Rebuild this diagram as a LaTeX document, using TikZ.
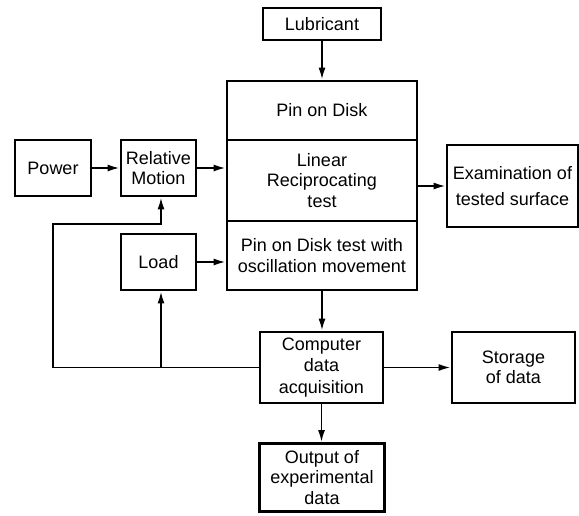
\documentclass[tikz,border=0pt]{standalone}
\usepackage{fontspec}
\setmainfont{Liberation Sans}
\usetikzlibrary{arrows.meta}
\begin{document}
\begin{tikzpicture}[x=1pt, y=-1pt,
  box/.style={draw, line width=2.8pt, align=center, inner sep=0pt,
    font=\fontsize{18}{20.5}\selectfont},
  link/.style={line width=1.8pt, -{Latex[length=12pt,width=7pt]}}]
\useasboundingbox (0,0) rectangle (579,515);

% input blocks
\node[box, minimum width=118, minimum height=32] (lub) at (322,24) {Lubricant};
\node[box, minimum width=76, minimum height=56] (power) at (53,168) {Power};
\node[box, minimum width=75, minimum height=56] (rel) at (158.5,168) {Relative\\Motion};
\node[box, minimum width=75, minimum height=56] (load) at (158.5,262) {Load};

% test rig, three stacked sections
\node[box, minimum width=190, minimum height=59] (pin) at (322,110.5) {Pin on Disk};
\node[box, minimum width=190, minimum height=81] (lin) at (322,180.5) {Linear\\Reciprocating\\test};
\node[box, minimum width=190, minimum height=69] (osc) at (322,255.5) {Pin on Disk test with\\oscillation movement};

% outputs
\node[box, minimum width=131, minimum height=82, font=\fontsize{18}{26}\selectfont] (exam) at (512.5,186) {Examination of\\tested surface};
\node[box, minimum width=123, minimum height=71, font=\fontsize{18}{21.5}\selectfont] (comp) at (321.5,367.5) {Computer\\data\\acquisition};
\node[box, minimum width=123, minimum height=71] (stor) at (513.5,367.5) {Storage\\of data};
\node[box, minimum width=125, minimum height=68] (out) at (322,477.5) {Output of\\experimental\\data};

% feedback routing points
\coordinate (fbl) at (53,367.5);
\coordinate (fbt) at (53,224);
\coordinate (br) at (161,367.5);

% connectors
\draw[link] (lub.south) -- (pin.north);
\draw[link] (power.east) -- (rel.west);
\draw[link] (rel.east) -- (rel.east -| lin.west);
\draw[link] (load.east) -- (load.east -| osc.west);
\draw[link] (exam.west -| lin.east) -- (exam.west);
\draw[link] (osc.south) -- (osc.south |- comp.north);
\draw[link] (comp.east) -- (stor.west);
\draw[link] (comp.south) -- (comp.south |- out.north);
\draw[link] (comp.west) -- (fbl) -- (fbt) -- (fbt -| br) -- (br |- rel.south);
\draw[link] (br) -- (br |- load.south);
\end{tikzpicture}
\end{document}
